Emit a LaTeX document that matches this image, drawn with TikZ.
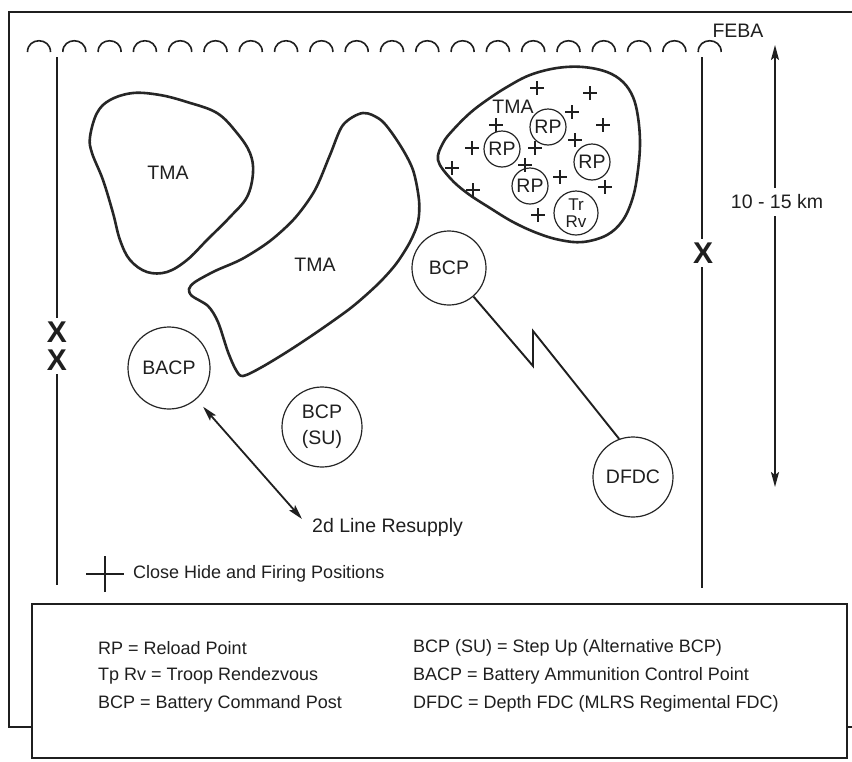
\documentclass[tikz,border=0pt]{standalone}
\usepackage{fontspec}
\setmainfont{Liberation Sans}
\usetikzlibrary{arrows.meta}
\begin{document}
\begin{tikzpicture}[x=1pt,y=-1pt,
  lab/.style={font=\fontsize{19.5}{20}\selectfont, inner sep=0pt, text=black!88},
  leg/.style={font=\fontsize{18}{20}\selectfont, anchor=west, inner sep=0pt, text=black!88},
  area/.style={draw=black!85, line width=2.6pt, line join=round},
  post/.style={circle, draw=black!85, line width=1.2pt, inner sep=0pt, align=center, text=black!88, font=\fontsize{19.5}{20}\selectfont},
  rpc/.style={post, minimum size=36pt},
  frameline/.style={draw=black!88, line width=2pt},
  axisline/.style={draw=black!88, line width=1.9pt},
  archline/.style={draw=black!88, line width=1.6pt},
  plusline/.style={draw=black!88, line width=1.2pt},
  xsign/.style={font=\fontsize{30}{30}\selectfont\bfseries, inner sep=0pt, outer sep=4pt, text=black!88},
  tipped/.style={draw=black!88, line width=1.8pt, -{Stealth[length=15pt,width=8pt,inset=3pt]}},
  twotipped/.style={draw=black!88, line width=1.8pt, {Stealth[length=15pt,width=8pt,inset=3pt]}-{Stealth[length=15pt,width=8pt,inset=3pt]}},
  zigline/.style={draw=black!88, line width=1.9pt, line join=miter},
]
\useasboundingbox (0,0) rectangle (852,761);
\fill[white] (0,0) rectangle (852,761);
\clip (0,0) rectangle (852,761);

% outer frame (runs off the right edge)
\draw[frameline] (9,12) rectangle (900,727);

% FEBA arches
\foreach \i in {0,...,19}{
  \pgfmathsetmacro{\cx}{39+35.3*\i}
  \draw[archline] (\cx-11.5,52) .. controls (\cx-11.5,37) and (\cx+11.5,37) .. (\cx+11.5,52);
}
\node[lab] (feba) at (738,31) {FEBA};

% TMA areas
\draw[area] plot[smooth cycle, tension=0.6] coordinates {
  (90,137) (97,113) (110,100) (133,93) (160,95) (187,102) (217,113) (237,133)
  (250,153) (253,173) (247,197) (230,217) (207,240) (187,260) (167,272)
  (147,272) (130,260) (120,240) (113,213) (103,180) (92,153)};
\node[lab] (tma1) at (168,173) {TMA};

\draw[area] plot[smooth cycle, tension=0.5] coordinates {
  (363,113) (382,121) (400,145) (413,170) (419,200) (418,222) (410,242)
  (396,264) (378,284) (352,307) (320,330) (290,350) (262,367) (243,376)
  (236,370) (228,352) (218,322) (208,306) (192,296) (189,289) (195,282)
  (215,271) (242,259) (270,241) (295,218) (315,190) (330,155) (343,125)};
\node[lab] (tma2) at (315,265) {TMA};

\draw[area] plot[smooth cycle, tension=0.6] coordinates {
  (438,160) (443,143) (453,130) (470,113) (487,100) (507,87) (530,75)
  (557,68) (583,67) (607,72) (623,82) (633,97) (638,117) (640,143)
  (638,170) (633,197) (623,220) (607,235) (583,242) (560,240) (537,233)
  (513,222) (490,208) (467,193) (450,178)};
\node[lab] (tma3) at (513,107) {TMA};

% close hide and firing positions inside TMA
\foreach \px/\py in {537/88, 590/93, 572/112, 603/125, 496/125, 575/140,
  472/148, 535/148, 452/168, 525/165, 560/177, 473/190, 605/187, 538/215}{
  \draw[plusline] (\px-7,\py) -- (\px+7,\py) (\px,\py-7) -- (\px,\py+7);
}

% reload points and troop rendezvous
\node[rpc] (rp1) at (548,127) {RP};
\node[rpc] (rp2) at (502,149) {RP};
\node[rpc] (rp3) at (592,162) {RP};
\node[rpc] (rp4) at (530,186) {RP};
\node[post, minimum size=44pt, font=\fontsize{17}{17.5}\selectfont] (trrv) at (576,213) {Tr\\Rv};

% command posts
\node[post, minimum size=74pt] (bcp) at (449,268) {BCP};
\node[post, minimum size=82pt] (bacp) at (169,368) {BACP};
\node[post, minimum size=80pt, font=\fontsize{19.5}{26}\selectfont] (bcpsu) at (322,427) {BCP\\(SU)};
\node[post, minimum size=80pt] (dfdc) at (633,477) {DFDC};

% radio link (lightning)
\coordinate (z1) at (533,366);
\coordinate (z2) at (533,331);
\draw[zigline] (bcp) -- (z1) -- (z2) -- (dfdc.110);

% 2d line resupply
\node[lab, anchor=west] (resupply) at (312,527) {2d Line Resupply};
\coordinate (rsend) at (302,519);
\draw[twotipped, shorten <=10pt] (bacp) -- (rsend);

% left boundary line with crossing points
\node[xsign] (x1) at (57,332) {X};
\node[xsign] (x2) at (57,360) {X};
\coordinate (lt) at (57,57);
\coordinate (lb) at (57,585);
\draw[axisline] (lt) -- (x1.north);
\draw[axisline] (x2.south) -- (lb);

% right boundary line
\node[xsign] (x3) at (703,253) {X};
\coordinate (rt) at (702,57);
\coordinate (rb) at (702,588);
\draw[axisline] (rt) -- (rt |- x3.north);
\draw[axisline] (rb |- x3.south) -- (rb);

% depth arrow
\node[lab, inner ysep=7pt] (km) at (777,202) {10 - 15 km};
\coordinate (at) at (775,45);
\coordinate (ab) at (775,487);
\draw[tipped] (at |- km.north) -- (at);
\draw[tipped] (ab |- km.south) -- (ab);

% symbol key
\node[leg] (closehide) at (133,574) {Close Hide and Firing Positions};
\coordinate (pk) at (105,574);
\draw[plusline] ([xshift=-19pt]pk) -- ([xshift=19pt]pk) ([yshift=-18pt]pk) -- ([yshift=18pt]pk);

% legend box
\draw[frameline, fill=white] (32,604) rectangle (847,758);
\node[leg] (l1) at (98,648) {RP = Reload Point};
\node[leg] (l2) at (98,676) {Tp Rv = Troop Rendezvous};
\node[leg] (l3) at (98,704) {BCP = Battery Command Post};
\node[leg] (l4) at (413,648) {BCP (SU) = Step Up (Alternative BCP)};
\node[leg] (l5) at (413,676) {BACP = Battery Ammunition Control Point};
\node[leg] (l6) at (413,704) {DFDC = Depth FDC (MLRS Regimental FDC)};
\end{tikzpicture}
\end{document}
